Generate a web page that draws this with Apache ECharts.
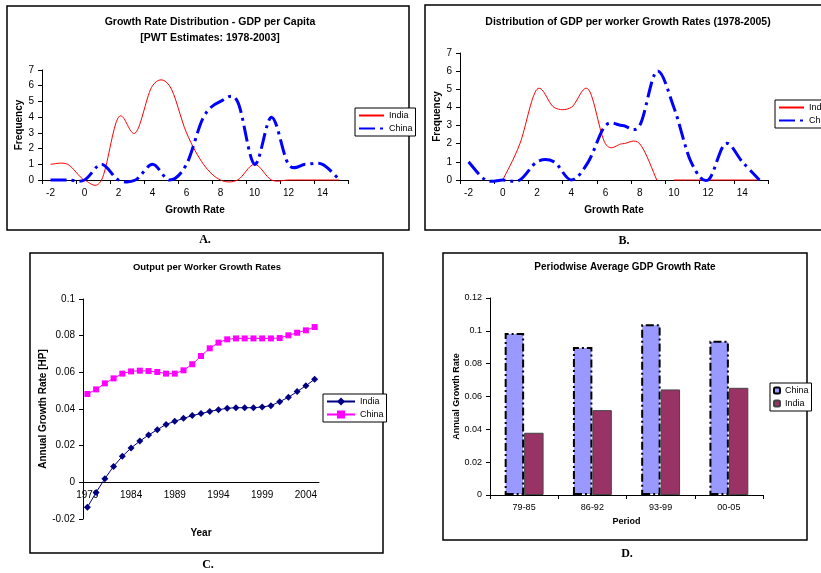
<!DOCTYPE html>
<html><head><meta charset="utf-8">
<script src="https://cdn.jsdelivr.net/npm/echarts@6/dist/echarts.min.js"></script>
<style>html,body{margin:0;padding:0;background:#fff}#c{width:821px;height:573px}</style>
</head><body><div id="c"></div>
<script>
// ---- Data ----
const rateCats = ['-2','-1','0','1','2','3','4','5','6','7','8','9','10','11','12','13','14','15'];
const indiaA = [1,1,0,0,4,3,6,6,3,1,0,0,1,0,0,0,0,0];
const chinaA = [0,0,0,1,0,0,1,0,1,4,5,5,1,4,1,1,1,0];
const indiaB = [null,null,0,2,5,4,4,5,2,2,2,0,null,null,null,null,null,null];
const indiaBTail = [null,null,null,null,null,null,null,null,null,null,null,null,0,0,0,0,0,0];
const chinaB = [1,0,0,0,1,1,0,1,3,3,3,6,4,1,0,2,1,0];
const years = ['1979','1980','1981','1982','1983','1984','1985','1986','1987','1988','1989','1990','1991','1992','1993','1994','1995','1996','1997','1998','1999','2000','2001','2002','2003','2004','2005'];
const indiaC = [-0.0136,-0.0055,0.0020,0.0087,0.0142,0.0187,0.0225,0.0258,0.0287,0.0316,0.0333,0.0349,0.0364,0.0375,0.0387,0.0396,0.0404,0.0407,0.0407,0.0407,0.0411,0.0418,0.0440,0.0464,0.0495,0.0527,0.0562];
const chinaC = [0.0482,0.0507,0.0540,0.0567,0.0593,0.0605,0.0609,0.0607,0.0602,0.0593,0.0593,0.0611,0.0644,0.0689,0.0731,0.0762,0.0780,0.0785,0.0785,0.0785,0.0785,0.0785,0.0787,0.0802,0.0816,0.0829,0.0847];
const periods = ['79-85','86-92','93-99','00-05'];
const chinaD = [0.0987,0.0902,0.1040,0.0939];
const indiaD = [0.0379,0.0517,0.0643,0.0653];

const FF = 'Liberation Sans, Arial, sans-serif';
const SERIF = 'bold 12px Liberation Serif, Times New Roman, serif';
const chart = echarts.init(document.getElementById('c'), null, {renderer:'canvas'});

function axisBase(fs) {
  return {
    axisLine: {show:true, onZero:false, lineStyle:{color:'#000', width:1}},
    axisTick: {show:true, length:4, lineStyle:{color:'#000'}},
    axisLabel: {color:'#000', fontSize:fs, fontFamily:FF},
    splitLine: {show:false},
    nameTextStyle: {color:'#000', fontFamily:FF, fontWeight:'bold', fontSize:fs}
  };
}
function xCat(gi, data, name, gap, fs, extra) {
  return Object.assign(axisBase(fs), {type:'category', gridIndex:gi, data:data, boundaryGap:true,
    name:name, nameLocation:'middle', nameGap:gap}, extra || {});
}
function yVal(gi, min, max, itv, name, gap, fs, fmt) {
  const a = Object.assign(axisBase(fs), {type:'value', gridIndex:gi, min:min, max:max, interval:itv,
    name:name, nameLocation:'middle', nameGap:gap, nameRotate:90});
  if (fmt) a.axisLabel.formatter = fmt;
  return a;
}
const fmt2 = v => String(+v.toFixed(2));
const blueDash = [16,5,3,5];

// Smooth (Catmull-Rom style) curve drawn from the data through the axis scales
function curve(idx, arr, stroke, width, dash) {
  const pts = [];
  arr.forEach((v, i) => { if (v !== null) pts.push([i, v]); });
  return {
    type:'custom', coordinateSystem:'cartesian2d', xAxisIndex:idx, yAxisIndex:idx,
    data: pts, silent:true, clip:false, z:3,
    renderItem: function (params, api) {
      if (params.dataIndex !== 0) return null;
      const segs = []; let cur = [];
      arr.forEach((v, i) => {
        if (v === null) { if (cur.length) segs.push(cur); cur = []; }
        else cur.push(api.coord([i, v]));
      });
      if (cur.length) segs.push(cur);
      let d = '';
      segs.forEach(P => {
        d += 'M' + P[0][0] + ' ' + P[0][1];
        for (let i = 0; i < P.length - 1; i++) {
          const p0 = P[Math.max(i - 1, 0)], p1 = P[i], p2 = P[i + 1], p3 = P[Math.min(i + 2, P.length - 1)];
          const c1x = p1[0] + (p2[0] - p0[0]) / 6, c1y = p1[1] + (p2[1] - p0[1]) / 6;
          const c2x = p2[0] - (p3[0] - p1[0]) / 6, c2y = p2[1] - (p3[1] - p1[1]) / 6;
          d += 'C' + c1x + ' ' + c1y + ' ' + c2x + ' ' + c2y + ' ' + p2[0] + ' ' + p2[1];
        }
      });
      return {type:'path', shape:{pathData:d},
        style:{stroke:stroke, lineWidth:width, lineDash:dash || null, fill:null}};
    }
  };
}
// invisible line series that only feed the legend of panels A and B
function legendLine(name, idx, arr, color, width, dash) {
  return {name:name, type:'line', xAxisIndex:idx, yAxisIndex:idx, data:arr, symbol:'none', silent:true,
    lineStyle:{color:color, width:width, type:dash || 'solid', opacity:0}, itemStyle:{color:color}};
}

function txt(x, y, s, font) {
  return {type:'text', x:x, y:y, style:{text:s, font:font, fill:'#000', align:'center', verticalAlign:'middle'}};
}
function box(x, y, w, h) {
  return {type:'rect', shape:{x:x, y:y, width:w, height:h}, style:{fill:null, stroke:'#000', lineWidth:1.5}};
}

const legendBase = {orient:'vertical', backgroundColor:'#fff', borderColor:'#000', borderWidth:1,
  padding:[3,3], itemGap:4, textStyle:{color:'#000', fontSize:9, fontFamily:FF},
  formatter: n => n.split(' ')[0]};
const lineLegend = {lineStyle:{opacity:1}, itemStyle:{opacity:0}};

const option = {
  animation:false,
  backgroundColor:'#fff',
  graphic: [
    box(7,6,402,224), box(425,5,400,225), box(30,253,353,300), box(443,253,364,287),
    txt(210,22,'Growth Rate Distribution - GDP per Capita','bold 10.5px '+FF),
    txt(210,38,'[PWT Estimates: 1978-2003]','bold 10.5px '+FF),
    txt(628,22,'Distribution of GDP per worker Growth Rates (1978-2005)','bold 10.5px '+FF),
    txt(207,267,'Output per Worker Growth Rates','bold 9.5px '+FF),
    txt(625,267,'Periodwise Average GDP Growth Rate','bold 10px '+FF),
    txt(205,240,'A.',SERIF), txt(624,241,'B.',SERIF), txt(208,565,'C.',SERIF), txt(627,554,'D.',SERIF)
  ],
  grid: [
    {left:42, top:70, width:306, height:110},
    {left:460, top:53, width:308, height:127},
    {left:83, top:299, width:236, height:220},
    {left:490, top:298, width:273, height:197}
  ],
  xAxis: [
    xCat(0, rateCats, 'Growth Rate', 25, 10, {axisTick:{show:true, length:4, interval:1, lineStyle:{color:'#000'}}, axisLabel:{color:'#000', fontSize:10, fontFamily:FF, interval:1}}),
    xCat(1, rateCats, 'Growth Rate', 25, 10, {axisTick:{show:true, length:4, interval:1, lineStyle:{color:'#000'}}, axisLabel:{color:'#000', fontSize:10, fontFamily:FF, interval:1}}),
    xCat(2, years, 'Year', 46, 10, {offset:-36.67, axisTick:{show:false}, axisLabel:{color:'#000', fontSize:10, fontFamily:FF, interval:4}}),
    xCat(3, periods, 'Period', 22, 9)
  ],
  yAxis: [
    yVal(0, 0, 7, 1, 'Frequency', 12, 10),
    yVal(1, 0, 7, 1, 'Frequency', 13, 10),
    yVal(2, -0.02, 0.1, 0.02, 'Annual Growth Rate [HP]', 30, 10, fmt2),
    yVal(3, 0, 0.12, 0.02, 'Annual Growth Rate', 27, 9, fmt2)
  ],
  legend: [
    Object.assign({}, legendBase, lineLegend, {left:355, top:108, itemWidth:25, itemHeight:10, data:['India A','China A']}),
    Object.assign({}, legendBase, lineLegend, {left:775, top:100, itemWidth:25, itemHeight:10, data:['India B','China B']}),
    Object.assign({}, legendBase, {left:323, top:394, itemWidth:28, itemHeight:10, data:['India C','China C']}),
    Object.assign({}, legendBase, {left:770, top:383, itemWidth:6, itemHeight:6, data:['China D','India D']})
  ],
  series: [
    legendLine('India A', 0, indiaA, '#FF0000', 1),
    legendLine('China A', 0, chinaA, '#0000FF', 3, blueDash),
    legendLine('India B', 1, indiaB, '#FF0000', 1),
    legendLine('China B', 1, chinaB, '#0000FF', 3, blueDash),
    curve(0, indiaA, '#FF0000', 1),
    curve(0, chinaA, '#0000FF', 3, blueDash),
    curve(1, indiaB, '#FF0000', 1),
    curve(1, indiaBTail, '#FF0000', 1),
    curve(1, chinaB, '#0000FF', 3, blueDash),
    {name:'India C', type:'line', xAxisIndex:2, yAxisIndex:2, data:indiaC, symbol:'diamond', symbolSize:7,
      showAllSymbol:true, lineStyle:{color:'#000080', width:1}, itemStyle:{color:'#000080'}},
    {name:'China C', type:'line', xAxisIndex:2, yAxisIndex:2, data:chinaC, symbol:'rect', symbolSize:6,
      showAllSymbol:true, lineStyle:{color:'#FF00FF', width:1}, itemStyle:{color:'#FF00FF'}},
    {name:'China D', type:'bar', xAxisIndex:3, yAxisIndex:3, data:chinaD, barGap:'0%', barCategoryGap:'43%',
      itemStyle:{color:'#9999FF', borderColor:'#000', borderWidth:2, borderType:[8,3,2,3]}},
    {name:'India D', type:'bar', xAxisIndex:3, yAxisIndex:3, data:indiaD,
      itemStyle:{color:'#993366', borderColor:'#444', borderWidth:1}}
  ]
};
chart.setOption(option);
</script></body></html>
